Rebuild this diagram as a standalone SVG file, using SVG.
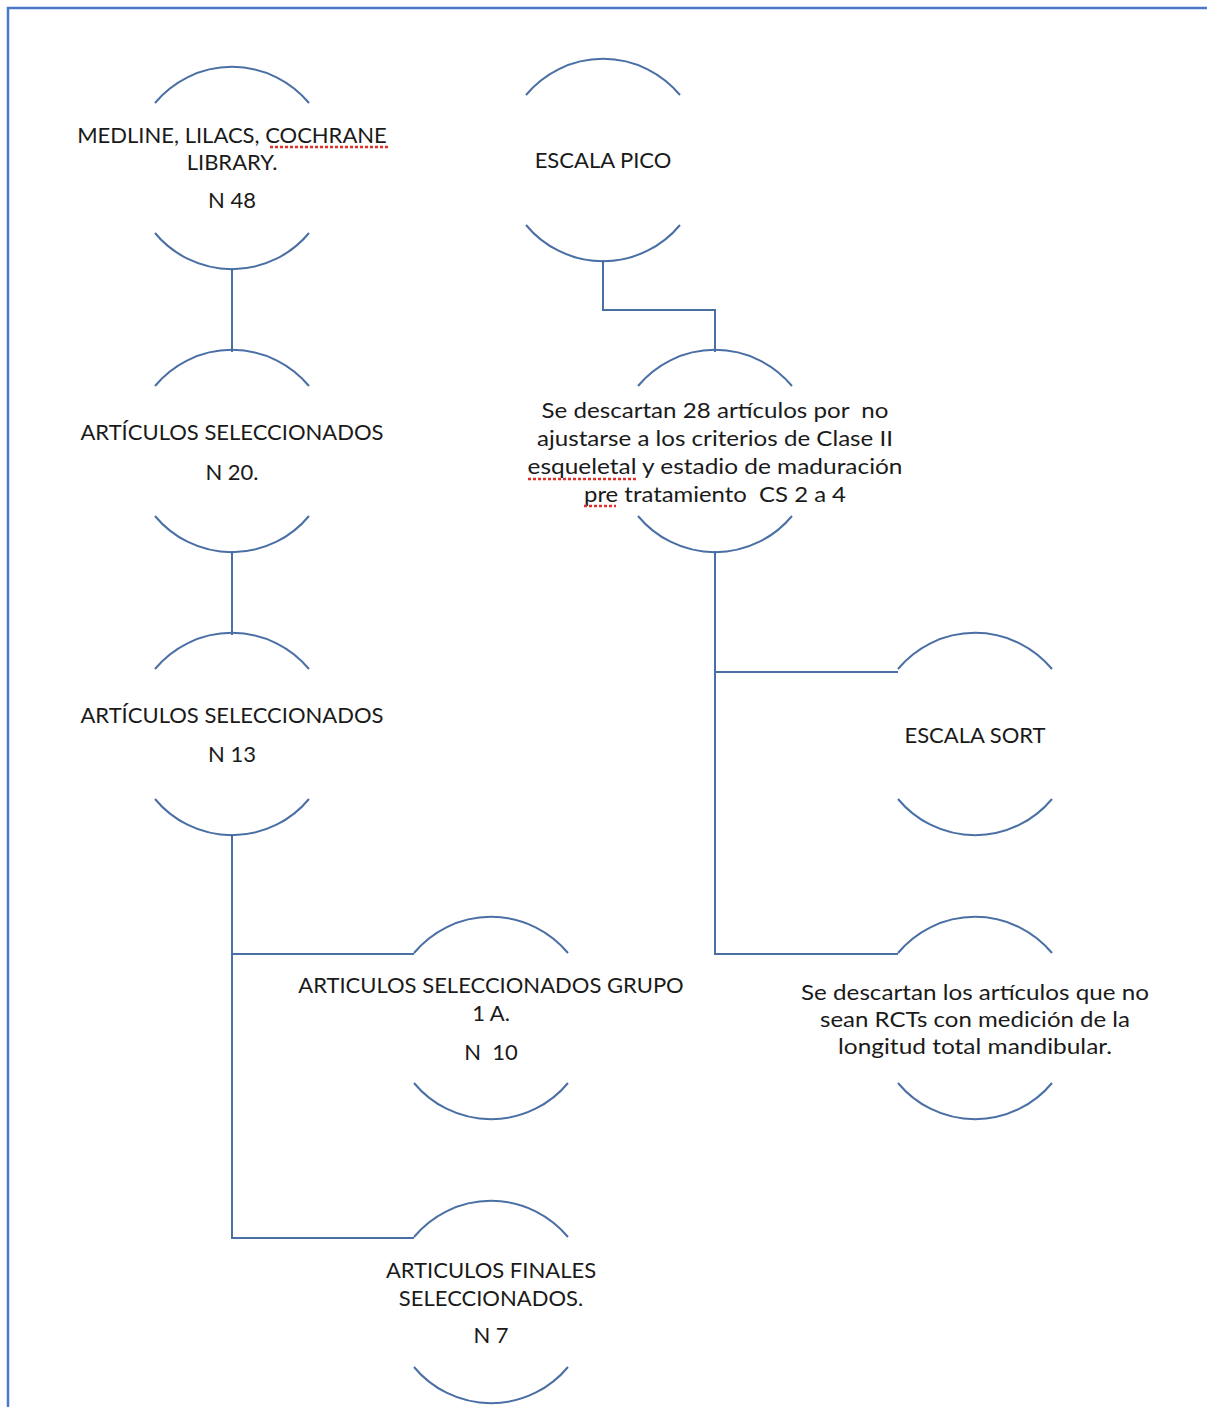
<svg xmlns="http://www.w3.org/2000/svg" width="1207" height="1407" viewBox="0 0 1207 1407">
<defs>
<style>
.arc{fill:none;stroke:#4a6fa5;stroke-width:2}
.con{fill:none;stroke:#4a6fa5;stroke-width:2}
.frame{fill:none;stroke:#4a78c8;stroke-width:2.5}
text{font-family:Lato,"Open Sans","Liberation Sans",sans-serif;font-size:22px;fill:#1a1a1a;text-anchor:middle}
.sq{stroke:#e0302a;stroke-width:2.5;stroke-dasharray:3 2;fill:none}
</style>
</defs>
<rect width="1207" height="1407" fill="#fff"/>
<path class="frame" d="M8 1407 V8 H1207"/>
<g id="connectors">
<path class="con" d="M232 268 V352"/>
<path class="con" d="M232 551 V635"/>
<path class="con" d="M603 260 V310 H715 V352"/>
<path class="con" d="M715 551 V954 H898"/>
<path class="con" d="M715 672 H898"/>
<path class="con" d="M232 834 V1238 H414"/>
<path class="con" d="M232 954 H414"/>
</g>
<g id="n1">
<path class="arc" d="M155 103 A100 100 0 0 1 309 103"/>
<path class="arc" d="M155 233 A100 100 0 0 0 309 233"/>
<text x="232" y="143">MEDLINE, LILACS, COCHRANE</text>
<text x="232" y="170">LIBRARY.</text>
<text x="232" y="208">N 48</text>
<path class="sq" d="M270 147 H388"/>
</g>
<g id="n2">
<path class="arc" d="M526 95 A100 100 0 0 1 680 95"/>
<path class="arc" d="M526 225 A100 100 0 0 0 680 225"/>
<text x="603" y="168">ESCALA PICO</text>
</g>
<g id="n3">
<path class="arc" d="M155 386 A100 100 0 0 1 309 386"/>
<path class="arc" d="M155 516 A100 100 0 0 0 309 516"/>
<text x="232" y="440">ARTÍCULOS SELECCIONADOS</text>
<text x="232" y="480">N 20.</text>
</g>
<g id="n4">
<path class="arc" d="M638 386 A100 100 0 0 1 792 386"/>
<path class="arc" d="M638 516 A100 100 0 0 0 792 516"/>
<text x="715" y="418" xml:space="preserve" textLength="347" lengthAdjust="spacingAndGlyphs">Se descartan 28 artículos por  no</text>
<text x="715" y="446" textLength="356" lengthAdjust="spacingAndGlyphs">ajustarse a los criterios de Clase II</text>
<text x="715" y="474" textLength="375" lengthAdjust="spacingAndGlyphs">esqueletal y estadio de maduración</text>
<text x="715" y="502" xml:space="preserve" textLength="262" lengthAdjust="spacingAndGlyphs">pre tratamiento  CS 2 a 4</text>
<path class="sq" d="M528 479 H636"/>
<path class="sq" d="M584 506 H616"/>
</g>
<g id="n5">
<path class="arc" d="M155 669 A100 100 0 0 1 309 669"/>
<path class="arc" d="M155 799 A100 100 0 0 0 309 799"/>
<text x="232" y="723">ARTÍCULOS SELECCIONADOS</text>
<text x="232" y="762">N 13</text>
</g>
<g id="n6">
<path class="arc" d="M898 669 A100 100 0 0 1 1052 669"/>
<path class="arc" d="M898 799 A100 100 0 0 0 1052 799"/>
<text x="975" y="743">ESCALA SORT</text>
</g>
<g id="n7">
<path class="arc" d="M414 953 A100 100 0 0 1 568 953"/>
<path class="arc" d="M414 1083 A100 100 0 0 0 568 1083"/>
<text x="491" y="993">ARTICULOS SELECCIONADOS GRUPO</text>
<text x="491" y="1021">1 A.</text>
<text x="491" y="1060" xml:space="preserve">N  10</text>
</g>
<g id="n8">
<path class="arc" d="M898 953 A100 100 0 0 1 1052 953"/>
<path class="arc" d="M898 1083 A100 100 0 0 0 1052 1083"/>
<text x="975" y="1000" textLength="348" lengthAdjust="spacingAndGlyphs">Se descartan los artículos que no</text>
<text x="975" y="1027" textLength="310" lengthAdjust="spacingAndGlyphs">sean RCTs con medición de la</text>
<text x="975" y="1054" textLength="274" lengthAdjust="spacingAndGlyphs">longitud total mandibular.</text>
</g>
<g id="n9">
<path class="arc" d="M414 1237 A100 100 0 0 1 568 1237"/>
<path class="arc" d="M414 1367 A100 100 0 0 0 568 1367"/>
<text x="491" y="1278">ARTICULOS FINALES</text>
<text x="491" y="1306">SELECCIONADOS.</text>
<text x="491" y="1343">N 7</text>
</g>
</svg>
